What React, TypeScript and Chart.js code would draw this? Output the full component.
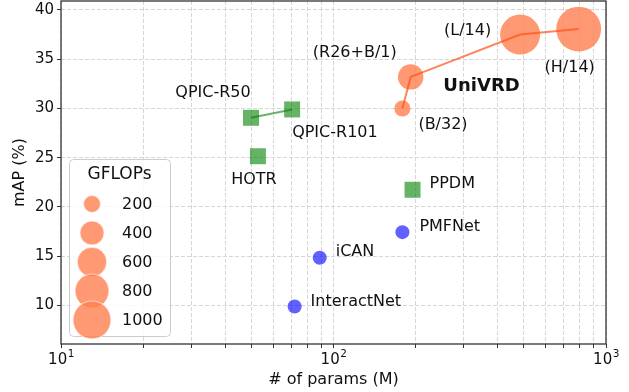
import React, { useEffect, useRef } from 'react';
import { Chart, registerables } from 'chart.js';

Chart.register(...registerables);

// ---- data ----
const blueNames = ['InteractNet', 'iCAN', 'PMFNet'];
const blueParams = [72, 89, 179];
const blueMAP = [9.9, 14.85, 17.45];

const greenNames = ['HOTR', 'QPIC-R50', 'QPIC-R101', 'PPDM'];
const greenParams = [52.8, 49.8, 70.5, 195];
const greenMAP = [25.15, 29.05, 29.9, 21.75];

const uniNames = ['(B/32)', '(R26+B/1)', '(L/14)', '(H/14)'];
const uniParams = [179, 192, 484, 794];
const uniMAP = [30.0, 33.2, 37.5, 38.05];
const uniGFLOPs = [180, 450, 1110, 1400];

const qpicLineNames = ['QPIC-R50', 'QPIC-R101'];
const legendGFLOPs = [200, 400, 600, 800, 1000];
const xTickValues = [10, 20, 30, 40, 50, 60, 70, 80, 90, 100, 200, 300, 400, 500, 600, 700, 800, 900, 1000];
const xLabelExponents = [1, 2, 3];
const yTickValues = [10, 15, 20, 25, 30, 35, 40];

// ---- styling / annotation placement ----
const FONT = 'DejaVu Sans';
const TEXT = '#111';
const CORAL = 'rgba(255,127,80,0.8)';
const CORAL_LINE = 'rgba(255,80,20,0.7)';
const GREEN = 'rgba(0,128,0,0.6)';
const BLUE = 'rgba(0,0,255,0.62)';
const rOf = (g: number) => 0.6 * Math.sqrt(g);

type Off = { dx: number; dy: number; align: CanvasTextAlign };
const labelOffsets: Record<string, Off> = {
  InteractNet: { dx: 16, dy: -5, align: 'left' },
  iCAN: { dx: 16, dy: -6, align: 'left' },
  PMFNet: { dx: 17, dy: -5, align: 'left' },
  HOTR: { dx: -4, dy: 24, align: 'center' },
  'QPIC-R50': { dx: -38, dy: -25, align: 'center' },
  'QPIC-R101': { dx: 0, dy: 23, align: 'left' },
  PPDM: { dx: 17, dy: -6, align: 'left' },
  '(B/32)': { dx: 16, dy: 16, align: 'left' },
  '(R26+B/1)': { dx: -14, dy: -24, align: 'right' },
  '(L/14)': { dx: -29, dy: -4, align: 'right' },
  '(H/14)': { dx: -9, dy: 39, align: 'center' },
};
const groupTitle = { text: 'UniVRD', x: 253, y: 32.2 };

const pts = (xs: number[], ys: number[]) => xs.map((x, i) => ({ x, y: ys[i] }));

const labelsPlugin = {
  id: 'pointLabels',
  afterDatasetsDraw(chart: any) {
    const { ctx, scales } = chart;
    const xs = scales.x, ys = scales.y;
    ctx.save();
    ctx.fillStyle = TEXT;
    ctx.textBaseline = 'middle';
    ctx.font = `16px "${FONT}"`;
    const groups: [string[], number[], number[]][] = [
      [blueNames, blueParams, blueMAP],
      [greenNames, greenParams, greenMAP],
      [uniNames, uniParams, uniMAP],
    ];
    groups.forEach(([names, px, py]) => {
      names.forEach((n, i) => {
        const o = labelOffsets[n];
        if (!o) return;
        ctx.textAlign = o.align;
        ctx.fillText(n, xs.getPixelForValue(px[i]) + o.dx, ys.getPixelForValue(py[i]) + o.dy);
      });
    });
    ctx.font = `bold 18px "${FONT}"`;
    ctx.textAlign = 'left';
    ctx.fillText(groupTitle.text, xs.getPixelForValue(groupTitle.x), ys.getPixelForValue(groupTitle.y));
    ctx.restore();
  },
};

// power-of-ten tick labels with a real superscript
const xLabelPlugin = {
  id: 'xPowLabels',
  afterDraw(chart: any) {
    const { ctx, scales, chartArea } = chart;
    const xs = scales.x;
    ctx.save();
    ctx.fillStyle = TEXT;
    ctx.textBaseline = 'alphabetic';
    ctx.textAlign = 'left';
    xLabelExponents.forEach((e) => {
      const cx = xs.getPixelForValue(Math.pow(10, e));
      ctx.font = `15px "${FONT}"`;
      const wBase = ctx.measureText('10').width;
      ctx.font = `10.5px "${FONT}"`;
      const wExp = ctx.measureText(String(e)).width;
      const x0 = cx - (wBase + wExp) / 2;
      ctx.font = `15px "${FONT}"`;
      ctx.fillText('10', x0, chartArea.bottom + 20);
      ctx.font = `10.5px "${FONT}"`;
      ctx.fillText(String(e), x0 + wBase + 0.5, chartArea.bottom + 13);
    });
    ctx.restore();
  },
};

const legendPlugin = {
  id: 'sizeLegend',
  afterDatasetsDraw(chart: any) {
    const { ctx, chartArea } = chart;
    const left = chartArea.left + 8;
    const bottom = chartArea.bottom - 8;
    const w = 101, h = 177;
    const top = bottom - h;
    ctx.save();
    ctx.beginPath();
    if (ctx.roundRect) ctx.roundRect(left + 0.5, top + 0.5, w, h, 4);
    else ctx.rect(left + 0.5, top + 0.5, w, h);
    ctx.fillStyle = 'rgba(255,255,255,0.8)';
    ctx.fill();
    ctx.strokeStyle = '#cccccc';
    ctx.lineWidth = 1;
    ctx.stroke();
    ctx.fillStyle = TEXT;
    ctx.textBaseline = 'middle';
    ctx.textAlign = 'center';
    ctx.font = `17px "${FONT}"`;
    ctx.fillText('GFLOPs', left + w / 2, top + 16);
    legendGFLOPs.forEach((g, i) => {
      const cy = top + 45 + 29 * i;
      const cx = left + 23;
      ctx.beginPath();
      ctx.arc(cx, cy, rOf(g), 0, Math.PI * 2);
      ctx.fillStyle = CORAL;
      ctx.fill();
      ctx.strokeStyle = 'rgba(255,255,255,0.8)';
      ctx.lineWidth = 0.8;
      ctx.stroke();
    });
    ctx.fillStyle = TEXT;
    ctx.textAlign = 'left';
    ctx.font = `16px "${FONT}"`;
    legendGFLOPs.forEach((g, i) => {
      ctx.fillText(String(g), left + 53, top + 45 + 29 * i + 1);
    });
    ctx.restore();
  },
};

const framePlugin = {
  id: 'frame',
  afterDraw(chart: any) {
    const { ctx, chartArea } = chart;
    ctx.save();
    ctx.strokeStyle = '#333';
    ctx.lineWidth = 1.3;
    ctx.strokeRect(chartArea.left, chartArea.top, chartArea.right - chartArea.left, chartArea.bottom - chartArea.top);
    ctx.restore();
  },
};

export default function App() {
  const ref = useRef<HTMLCanvasElement | null>(null);
  useEffect(() => {
    if (!ref.current) return;
    const qIdx = qpicLineNames.map((n) => greenNames.indexOf(n));
    const chart = new Chart(ref.current, {
      type: 'scatter',
      data: {
        datasets: [
          {
            type: 'line',
            data: pts(uniParams, uniMAP),
            borderColor: CORAL_LINE,
            borderWidth: 2,
            pointRadius: 0,
            fill: false,
            tension: 0,
            order: 0,
          } as any,
          {
            type: 'line',
            data: qIdx.map((i) => ({ x: greenParams[i], y: greenMAP[i] })),
            borderColor: GREEN,
            borderWidth: 2,
            pointRadius: 0,
            fill: false,
            tension: 0,
            order: 1,
          } as any,
          {
            data: pts(uniParams, uniMAP),
            pointRadius: uniGFLOPs.map(rOf),
            backgroundColor: CORAL,
            borderWidth: 0,
            order: 2,
          },
          {
            data: pts(greenParams, greenMAP),
            pointStyle: 'rect',
            pointRadius: 11.3,
            backgroundColor: GREEN,
            borderWidth: 0,
            order: 3,
          },
          {
            data: pts(blueParams, blueMAP),
            pointRadius: 7,
            backgroundColor: BLUE,
            borderWidth: 0,
            order: 4,
          },
        ],
      },
      options: {
        animation: false,
        responsive: false,
        events: [],
        layout: { autoPadding: false, padding: { left: 0, right: 23, top: 1, bottom: 0 } },
        plugins: { legend: { display: false }, tooltip: { enabled: false } },
        scales: {
          x: {
            type: 'logarithmic',
            min: 10,
            max: 1000,
            afterBuildTicks: (s: any) => {
              s.ticks = xTickValues.map((v) => ({ value: v }));
            },
            afterFit: (s: any) => {
              s.height = 48;
              s.paddingLeft = 0;
              s.paddingRight = 0;
            },
            grid: {
              color: '#d6d6d6',
              lineWidth: 1,
              tickColor: '#333',
              tickLength: 4,
            },
            border: { display: false, dash: [4, 2] },
            ticks: {
              autoSkip: false,
              maxRotation: 0,
              padding: 2,
              color: TEXT,
              font: { family: FONT, size: 15 },
              callback: () => '',
            },
            title: {
              display: true,
              text: '# of params (M)',
              color: TEXT,
              font: { family: FONT, size: 16 },
              padding: { top: 0, bottom: 2.4 },
            },
          },
          y: {
            type: 'linear',
            min: 6.1,
            max: 40.9,
            afterBuildTicks: (s: any) => {
              s.ticks = yTickValues.map((v) => ({ value: v }));
            },
            afterFit: (s: any) => {
              s.width = 61;
              s.paddingTop = 0;
              s.paddingBottom = 0;
            },
            grid: {
              color: '#d6d6d6',
              lineWidth: 1,
              tickColor: '#333',
              tickLength: 4,
            },
            border: { display: false, dash: [4, 2] },
            ticks: {
              padding: 3,
              color: TEXT,
              font: { family: FONT, size: 15 },
            },
            title: {
              display: true,
              text: 'mAP (%)',
              color: TEXT,
              font: { family: FONT, size: 16 },
              padding: { top: 10, bottom: 0 },
            },
          },
        },
      },
      plugins: [labelsPlugin, legendPlugin, xLabelPlugin, framePlugin],
    });
    return () => chart.destroy();
  }, []);
  return (
    <div style={{ position: 'absolute', left: 0, top: 0, width: 629, height: 392, background: '#fff' }}>
      <canvas ref={ref} width={629} height={392} style={{ width: 629, height: 392, display: 'block' }} />
    </div>
  );
}
